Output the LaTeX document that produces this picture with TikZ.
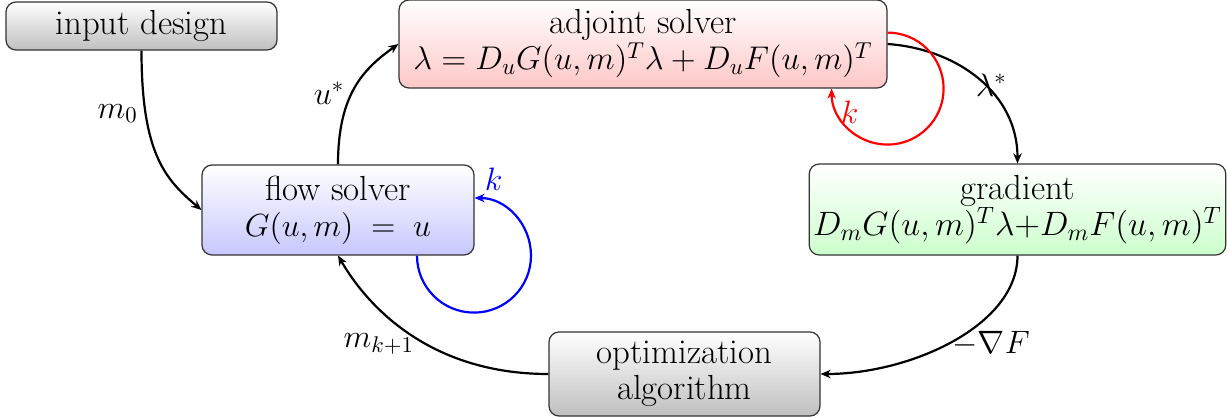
\RequirePackage{fix-cm}
\documentclass[tikz,border=0pt]{standalone}
\usetikzlibrary{arrows.meta,calc}
\newcommand\mysizeset{\fontsize{17.4}{18}\selectfont\lineskiplimit-20pt\relax}
\newcommand\mathsz[1]{\fontsize{#1}{18}\selectfont}
\begin{document}
\begin{tikzpicture}[x=0.5pt,y=-0.5pt,
  txt/.style={font=\mysizeset},
  box/.style={draw=black!80, line width=0.6pt, rounded corners=5pt, align=center, inner sep=2pt, txt},
  tip/.style={-{Stealth[length=5pt,width=4.2pt,inset=1.6pt]}},
  conn/.style={line width=1.1pt, tip},
  lbl/.style={font=\mathsz{16.2}}]
\useasboundingbox (0,0) rectangle (1228,418);
\node[box, top color=white, bottom color=black!25, minimum width=135.5pt, minimum height=24pt] (input) at (141.5,26) {input design};
\node[box, top color=white, bottom color=red!22, minimum width=244pt, minimum height=44pt] (adj) at (643,44) {adjoint solver\\\mathsz{16.4}$\lambda = D_uG(u,m)^T\lambda + D_uF(u,m)^T$};
\node[box, top color=white, bottom color=blue!22, minimum width=136pt, minimum height=45pt] (flow) at (338,210) {flow solver\\\mathsz{16}$G(u,m)\;=\;u$};
\node[box, top color=white, bottom color=green!20, minimum width=205.5pt, minimum height=45.5pt] (grad) at (1017.5,209.5) {gradient\\\mathsz{16.9}$D_mG(u,m)^T\lambda{+}D_mF(u,m)^T$};
\node[box, top color=white, bottom color=black!25, minimum width=135.5pt, minimum height=42pt] (opt) at (684.5,374) {optimization\\algorithm};

\draw[conn] (input.south) .. controls +(0,105) and +(-35,-30) .. node[pos=0.24,left,lbl]{$m_0$} (flow.west);
\draw[conn] (flow.north) .. controls +(0,-70) and +(-35,25) .. node[pos=0.45,left,lbl]{$u^*$} (adj.west);
\draw[conn] (adj.east) .. controls +(70,5) and +(0,-70) .. node[pos=0.5,right,inner sep=0pt,xshift=-2pt,yshift=-3pt,lbl]{$\lambda^*$} (grad.north);
\draw[conn] (grad.south) .. controls +(0,70) and +(90,0) .. node[pos=0.5,right,xshift=-4pt,yshift=-1.5pt,lbl]{$-\nabla F$} (opt.east);
\draw[conn] (opt.west) .. controls +(-110,0) and +(35,60) .. node[pos=0.45,anchor=east,xshift=-2pt,lbl]{$m_{k+1}$} (flow.south);

% blue self loop: 3/4 circle, radius 57px
\draw[blue, line width=1.1pt, tip]
  ($(flow.south)+(79,0)$) .. controls +(0,31.5) and +(-31.5,0) ..
  ($(flow.south)+(136,57)$) .. controls +(31.5,0) and +(0,31.5) ..
  ($(flow.south)+(193,0)$) .. controls +(0,-31.5) and +(31.5,0) ..
  ($(flow.east)+(0,-12)$)
  node[lbl] at ($(flow.east)+(19,-31)$) {$k$};
% red self loop: 3/4 circle round the corner, radius 56px
\draw[red, line width=1.1pt, tip]
  ($(adj.south east)+(0,-56)$) .. controls +(30.9,0) and +(0,-30.9) ..
  ($(adj.south east)+(56,0)$) .. controls +(0,30.9) and +(30.9,0) ..
  ($(adj.south east)+(0,56)$) .. controls +(-30.9,0) and +(0,30.9) ..
  ($(adj.south east)+(-56,0)$)
  node[lbl] at ($(adj.south east)+(-38,24)$) {$k$};
\end{tikzpicture}
\end{document}
